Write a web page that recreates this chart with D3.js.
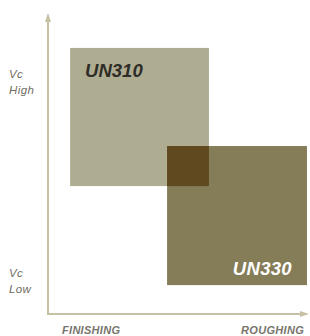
<!DOCTYPE html>
<html>
<head>
<meta charset="utf-8">
<script src="https://cdn.jsdelivr.net/npm/d3@7"></script>
<style>
  body { margin: 0; background: #fff; }
  text { font-family: "Liberation Sans", Arial, sans-serif; font-style: italic; }
</style>
</head>
<body>
<div id="chart"></div>
<script>
var width = 310;
var height = 336;

// grades, and the zone each covers (0-100 on both axes)
var grades = ["UN310", "UN330"];
var xStart = [8.5, 45.8];
var xEnd = [61.9, 99.6];
var yLow = [42.5, 9.6];
var yHigh = [88.4, 55.8];
var fills = ["#aeac91", "#857c58"];
var overlapFill = "#61491f";

var yLabels = [["Vc", "High"], ["Vc", "Low"]];
var yLabelPos = [80, 14];
var xLabels = ["FINISHING", "ROUGHING"];

var xScale = d3.scaleLinear().domain([0, 100]).range([48, 308]);
var yScale = d3.scaleLinear().domain([0, 100]).range([314, 13]);

var svg = d3.select("#chart").append("svg")
  .attr("width", width)
  .attr("height", height);

// zones
grades.forEach(function (g, i) {
  svg.append("rect")
    .attr("x", xScale(xStart[i]))
    .attr("y", yScale(yHigh[i]))
    .attr("width", xScale(xEnd[i]) - xScale(xStart[i]))
    .attr("height", yScale(yLow[i]) - yScale(yHigh[i]))
    .attr("fill", fills[i]);
});

// overlap of the two zones
var ox0 = Math.max(xStart[0], xStart[1]), ox1 = Math.min(xEnd[0], xEnd[1]);
var oy0 = Math.max(yLow[0], yLow[1]), oy1 = Math.min(yHigh[0], yHigh[1]);
svg.append("rect")
  .attr("x", xScale(ox0))
  .attr("y", yScale(oy1))
  .attr("width", xScale(ox1) - xScale(ox0))
  .attr("height", yScale(oy0) - yScale(oy1))
  .attr("fill", overlapFill);

// grade names
svg.append("text")
  .attr("x", xScale(xStart[0]) + 15)
  .attr("y", yScale(yHigh[0]) + 29)
  .attr("font-size", "18.5px")
  .attr("font-weight", "bold")
  .attr("fill", "#2e2d28")
  .text(grades[0]);

svg.append("text")
  .attr("x", xScale(xEnd[1]) - 15)
  .attr("y", yScale(yLow[1]) - 10)
  .attr("text-anchor", "end")
  .attr("font-size", "18.5px")
  .attr("font-weight", "bold")
  .attr("letter-spacing", "0.3px")
  .attr("fill", "#ffffff")
  .text(grades[1]);

// axes with arrows
var axisColor = "#c6c0a4";
svg.append("line")
  .attr("x1", xScale(0)).attr("y1", yScale(0))
  .attr("x2", xScale(0)).attr("y2", yScale(100) + 6)
  .attr("stroke", axisColor).attr("stroke-width", 2);
svg.append("path")
  .attr("d", "M" + (xScale(0) - 3) + "," + (yScale(100) + 9) + "L" + xScale(0) + "," + yScale(100) + "L" + (xScale(0) + 3) + "," + (yScale(100) + 9) + "Z")
  .attr("fill", axisColor);

svg.append("line")
  .attr("x1", xScale(0) - 1).attr("y1", yScale(0))
  .attr("x2", xScale(100) - 5).attr("y2", yScale(0))
  .attr("stroke", axisColor).attr("stroke-width", 2);
svg.append("path")
  .attr("d", "M" + (xScale(100) - 8) + "," + (yScale(0) - 3) + "L" + (xScale(100) + 1) + "," + yScale(0) + "L" + (xScale(100) - 8) + "," + (yScale(0) + 3) + "Z")
  .attr("fill", axisColor);

// y labels
yLabels.forEach(function (lines, i) {
  var t = svg.append("text")
    .attr("x", 9)
    .attr("y", yScale(yLabelPos[i]) + 5)
    .attr("font-size", "11.5px")
    .attr("letter-spacing", "0.4px")
    .attr("fill", "#6e6b61");
  t.append("tspan").attr("x", 9).text(lines[0]);
  t.append("tspan").attr("x", 9).attr("dy", 16).text(lines[1]);
});

// x labels
svg.append("text")
  .attr("x", 62)
  .attr("y", 334)
  .attr("font-size", "11px")
  .attr("font-weight", "bold")
  .attr("letter-spacing", "0.3px")
  .attr("fill", "#77756c")
  .text(xLabels[0]);

svg.append("text")
  .attr("x", 304)
  .attr("y", 334)
  .attr("text-anchor", "end")
  .attr("font-size", "11px")
  .attr("font-weight", "bold")
  .attr("letter-spacing", "0.3px")
  .attr("fill", "#77756c")
  .text(xLabels[1]);
</script>
</body>
</html>
